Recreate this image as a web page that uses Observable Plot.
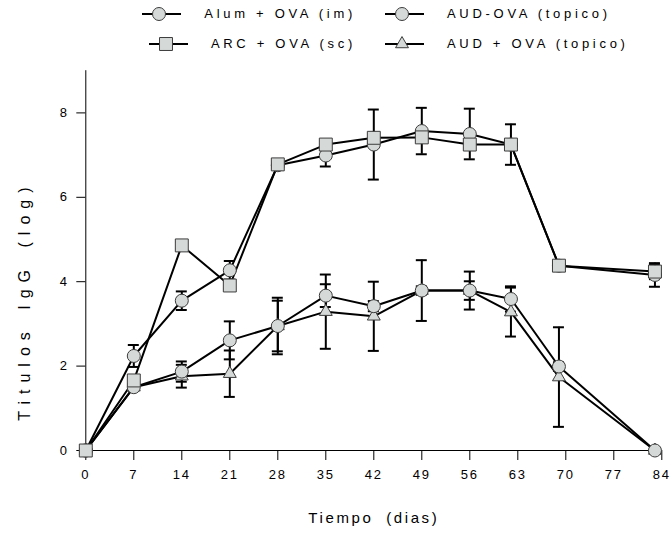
<!DOCTYPE html>
<html>
<head>
<meta charset="utf-8">
<script src="https://cdn.jsdelivr.net/npm/d3@7"></script>
<script src="https://cdn.jsdelivr.net/npm/@observablehq/plot@0.6"></script>
<style>
  body { margin: 0; background: #fff; font-family: "Liberation Sans", Arial, sans-serif; }
  #wrap { position: relative; width: 672px; height: 553px; overflow: hidden; }
  #legend { position: relative; width: 672px; height: 60px; }
  .lg-svg { position: absolute; }
  .lg-txt { position: absolute; font-size: 13px; letter-spacing: 3.7px; color: #000; white-space: pre; line-height: 16px; }
</style>
</head>
<body>
<div id="wrap">
  <div id="legend"></div>
  <div id="chart"></div>
</div>
<script>
// ---- data ----
const days = [0, 7, 14, 21, 28, 35, 42, 49, 56, 62, 69, 83];

const seriesNames = ["Alum + OVA (im)", "ARC + OVA (sc)", "AUD-OVA (topico)", "AUD + OVA (topico)"];

const alumOva    = [0, 2.24, 3.55, 4.27, 6.76, 6.99, 7.25, 7.57, 7.50, 7.25, 4.38, 4.16];
const alumOvaErr = [0, 0.26, 0.22, 0.22, 0.08, 0.26, 0.83, 0.55, 0.60, 0.48, 0.05, 0.28];

const arcOva     = [0, 1.66, 4.86, 3.91, 6.78, 7.25, 7.41, 7.42, 7.25, 7.25, 4.38, 4.24];
const arcOvaErr  = [0, 0.08, 0.08, 0.08, 0.08, 0.08, 0.08, 0.08, 0.08, 0.10, 0.05, 0.18];

const audMinusOva    = [0, 1.50, 1.87, 2.61, 2.95, 3.67, 3.42, 3.79, 3.79, 3.59, 1.99, 0];
const audMinusOvaErr = [0, 0.08, 0.24, 0.45, 0.60, 0.27, 0.12, 0.72, 0.45, 0.30, 0.10, 0];

const audPlusOva    = [0, 1.50, 1.76, 1.82, 2.95, 3.29, 3.18, 3.79, 3.79, 3.28, 1.74, 0];
const audPlusOvaErr = [0, 0.08, 0.27, 0.55, 0.67, 0.88, 0.82, 0.10, 0.22, 0.58, 1.18, 0];

const xTicks = [0, 7, 14, 21, 28, 35, 42, 49, 56, 63, 70, 77, 84];
const yTicks = [0, 2, 4, 6, 8];
const xLabel = "Tiempo (dias)";
const yLabel = "Titulos IgG (log)";

// ---- build ----
const symbols = ["circle", "square", "circle", "triangle"];
const radii   = [6.5, 7.3, 6.5, 4.8];
const values  = [alumOva, arcOva, audMinusOva, audPlusOva];
const errs    = [alumOvaErr, arcOvaErr, audMinusOvaErr, audPlusOvaErr];
const drawOrder = [3, 2, 0, 1];

const FILL = "#d5dad8", MSTROKE = "#3c3c3c";

const rows = seriesNames.map((name, si) => days.map((d, i) => ({
  series: name, day: d, v: values[si][i], e: errs[si][i]
})));

const marks = [
  Plot.ruleY([0], {stroke: "#000", strokeWidth: 1}),
  Plot.ruleX([0], {stroke: "#000", strokeWidth: 1}),
  Plot.axisX({ticks: xTicks, tickSize: 10, tickPadding: 9, fontSize: 13, label: null, stroke: "#000"}),
  Plot.axisY({ticks: yTicks, tickSize: 9, tickPadding: 8, fontSize: 13, label: null, stroke: "#000"})
];

for (const si of drawOrder) {
  const data = rows[si];
  const eb = data.filter(d => d.e > 0);
  marks.push(Plot.ruleX(eb, {x: "day", y1: d => d.v - d.e, y2: d => d.v + d.e, stroke: "#000", strokeWidth: 2}));
  marks.push(Plot.ruleY(eb, {y: d => d.v + d.e, x1: d => d.day - 0.8, x2: d => d.day + 0.8, stroke: "#000", strokeWidth: 2}));
  marks.push(Plot.ruleY(eb, {y: d => d.v - d.e, x1: d => d.day - 0.8, x2: d => d.day + 0.8, stroke: "#000", strokeWidth: 2}));
  marks.push(Plot.line(data, {x: "day", y: "v", stroke: "#000", strokeWidth: 2}));
}
for (const si of drawOrder) {
  marks.push(Plot.dot(rows[si], {x: "day", y: "v", symbol: symbols[si], r: radii[si], fill: FILL, stroke: MSTROKE, strokeWidth: 1}));
}

marks.push(Plot.text([yLabel], {text: d => d, frameAnchor: "left", textAnchor: "middle", lineAnchor: "middle", rotate: -90, dx: -61, dy: 40, fontSize: 16, className: "ttly"}));
marks.push(Plot.text([xLabel], {text: d => d, frameAnchor: "bottom", textAnchor: "middle", lineAnchor: "middle", dy: 68, fontSize: 15, className: "ttlx"}));

const chart = Plot.plot({
  width: 672,
  height: 493,
  marginLeft: 85.3,
  marginRight: 10.7,
  marginTop: 10.2,
  marginBottom: 103,
  style: {fontFamily: "Liberation Sans, Arial, sans-serif", background: "#fff", color: "#000", overflow: "visible"},
  x: {domain: [0, 84]},
  y: {domain: [0, 9]},
  marks
});
document.getElementById("chart").appendChild(chart);

const svg = d3.select(chart);
svg.selectAll("[aria-label^='x-axis tick label'] text, [aria-label^='y-axis tick label'] text").style("letter-spacing", "1.8px");
svg.selectAll(".ttlx text").style("letter-spacing", "2.6px").style("word-spacing", "6px");
svg.selectAll(".ttly text").style("letter-spacing", "7px").style("word-spacing", "4px");

// ---- legend ----
const symMap = {circle: d3.symbolCircle, square: d3.symbolSquare, triangle: d3.symbolTriangle};
const leg = d3.select("#legend");
const rowY = [14, 44, 14, 44];
function drawSymbol(x, y, si) {
  const s = leg.append("svg").attr("class", "lg-svg").attr("width", 42).attr("height", 20)
    .style("left", (x - 18) + "px").style("top", (y - 10) + "px");
  s.append("line").attr("x1", 1).attr("x2", 40).attr("y1", 10).attr("y2", 10).attr("stroke", "#000").attr("stroke-width", 2);
  s.append("path").attr("transform", "translate(18,10)")
    .attr("d", d3.symbol(symMap[symbols[si]], Math.PI * radii[si] * radii[si])())
    .attr("fill", FILL).attr("stroke", MSTROKE).attr("stroke-width", 1);
}
seriesNames.forEach((name, si) => {
  const y = rowY[si];
  const t = leg.append("div").attr("class", "lg-txt").style("top", (y - 8) + "px").text(name);
  if (si < 2) {
    // first column: text right edge near x=352
    t.style("right", (672 - 356) + "px");
    const w = t.node().getBoundingClientRect();
    drawSymbol(w.left - 45, y, si);
  } else {
    t.style("left", "447px");
    drawSymbol(402, y, si);
  }
});
</script>
</body>
</html>
